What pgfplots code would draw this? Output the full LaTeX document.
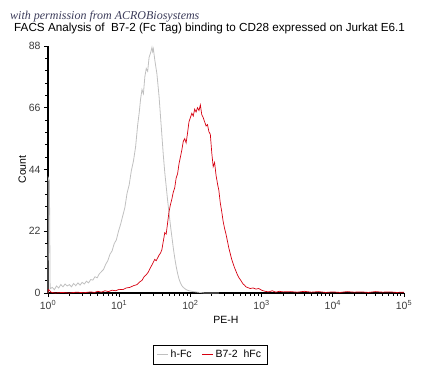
\documentclass[border=0pt]{standalone}
\usepackage{pgfplots}
\pgfplotsset{compat=1.18}
\usepackage{fontspec}
\setmainfont{Liberation Sans}
\newfontfamily\wmfont{Liberation Serif}
\definecolor{grayline}{RGB}{192,192,192}
\definecolor{redline}{RGB}{214,0,16}
\definecolor{ticktext}{RGB}{60,60,60}
\definecolor{wmcol}{RGB}{60,60,90}
\begin{document}
\begin{tikzpicture}
\begin{axis}[
  name=ax,
  width=356pt, height=247pt, scale only axis,
  xmin=0, xmax=5, ymin=0, ymax=88,
  axis x line=bottom, axis y line=left,
  axis line style={line width=1.6pt,-},
  xtick={0,1,2,3,4,5},
  xticklabels={10\textsuperscript{0},10\textsuperscript{1},10\textsuperscript{2},10\textsuperscript{3},10\textsuperscript{4},10\textsuperscript{5}},
  minor xtick={0.301,0.477,0.602,0.699,0.778,0.845,0.903,0.954,
    1.301,1.477,1.602,1.699,1.778,1.845,1.903,1.954,
    2.301,2.477,2.602,2.699,2.778,2.845,2.903,2.954,
    3.301,3.477,3.602,3.699,3.778,3.845,3.903,3.954,
    4.301,4.477,4.602,4.699,4.778,4.845,4.903,4.954},
  ytick={0,22,44,66,88},
  minor y tick num=4,
  tick align=outside,
  major tick length=4pt, minor tick length=2.5pt,
  tick style={black,line width=0.8pt},
  /pgf/number format/assume math mode=true,
  ticklabel style={font=\fontsize{10.5}{12}\selectfont,text=ticktext},
  xlabel={PE-H}, ylabel={Count},
  ylabel shift=-4pt,
  label style={font=\fontsize{10.5}{12}\selectfont},
  legend style={at={(0.455,-0.21)},anchor=north,legend columns=2,
    font=\fontsize{10.5}{12}\selectfont,
    inner xsep=4pt, inner ysep=3pt,
    /tikz/every even column/.append style={column sep=8pt}},
  legend image code/.code={\draw[#1,line width=0.8pt] (0pt,0pt) -- (11pt,0pt);},
  clip=false,
]
\coordinate (O) at (rel axis cs:0,0);
\addplot[grayline,line width=0.8pt] coordinates {
(0.000,0) (0.005,41) (0.020,40) (0.030,1.5) (0.060,2.0) (0.090,1.2) (0.120,2.5) (0.150,1.8)
(0.180,3.0) (0.210,2.2) (0.240,3.2) (0.270,2.5) (0.300,3.0) (0.330,2.2) (0.360,3.4) (0.390,2.6)
(0.420,3.6) (0.450,2.8) (0.480,3.8) (0.510,3.2) (0.540,4.2) (0.570,3.6) (0.600,4.8) (0.630,4.6)
(0.660,5.8) (0.690,5.4) (0.720,6.8) (0.750,7.6) (0.780,8.4) (0.810,10.2) (0.840,11.5) (0.870,13.8)
(0.900,15.0) (0.930,17.6) (0.960,18.9) (0.990,22.0) (1.020,24.5) (1.050,27.5) (1.080,30.5) (1.110,35.5)
(1.140,38.5) (1.170,43.5) (1.200,47.0) (1.230,52.0) (1.260,60.0) (1.280,64.0) (1.300,69.0) (1.320,72.5)
(1.340,71.0) (1.360,77.0) (1.380,80.0) (1.400,79.0) (1.420,84.0) (1.440,85.5) (1.460,87.5) (1.470,86.0)
(1.480,87.0) (1.500,83.0) (1.530,78.0) (1.560,70.0) (1.580,63.0) (1.600,56.0) (1.620,49.0) (1.640,43.0)
(1.660,38.0) (1.680,33.0) (1.700,28.5) (1.720,24.0) (1.740,20.0) (1.760,16.0) (1.780,12.5) (1.800,9.5)
(1.820,7.0) (1.840,5.0) (1.860,3.6) (1.880,2.6) (1.900,2.0) (1.940,1.2) (1.980,0.8) (2.040,0.5)
(2.100,0.3) (2.200,0.0) (2.400,0.0)
};
\addlegendentry{h-Fc}
\addplot[redline,line width=0.7pt] coordinates {
(0.000,0) (0.005,1.2) (0.020,1.0) (0.040,0.3) (0.100,0.0) (0.200,0.2) (0.300,0.0) (0.400,0.3)
(0.500,0.1) (0.600,0.4) (0.650,0.2) (0.700,0.6) (0.750,0.3) (0.800,0.8) (0.850,0.5) (0.900,1.0)
(0.950,0.8) (1.000,1.3) (1.050,1.2) (1.100,1.8) (1.150,2.0) (1.200,2.6) (1.250,3.0) (1.290,4.0)
(1.320,4.5) (1.350,5.8) (1.380,6.5) (1.410,7.5) (1.430,8.6) (1.460,10.0) (1.480,11.0) (1.500,12.0)
(1.520,11.5) (1.540,12.5) (1.560,13.5) (1.580,14.2) (1.600,15.5) (1.620,18.5) (1.640,21.5) (1.660,21.0)
(1.680,25.0) (1.700,29.0) (1.720,31.5) (1.740,33.5) (1.760,36.0) (1.780,37.5) (1.800,41.0) (1.820,42.5)
(1.840,46.0) (1.860,48.5) (1.880,51.0) (1.900,54.0) (1.920,55.0) (1.940,53.5) (1.960,57.0) (1.980,61.0)
(2.000,62.5) (2.020,64.0) (2.040,63.0) (2.060,65.5) (2.080,64.5) (2.100,66.0) (2.120,65.0) (2.140,67.0)
(2.160,63.5) (2.180,62.5) (2.200,61.0) (2.220,59.5) (2.240,60.0) (2.260,57.5) (2.280,56.5) (2.300,50.0)
(2.320,45.0) (2.340,46.5) (2.360,42.0) (2.380,39.0) (2.400,36.5) (2.420,32.0) (2.440,29.0) (2.460,25.5)
(2.480,23.0) (2.500,21.0) (2.520,18.5) (2.540,16.0) (2.560,14.0) (2.580,12.0) (2.600,10.5) (2.620,9.0)
(2.640,7.8) (2.660,6.5) (2.680,5.5) (2.700,4.8) (2.720,4.0) (2.740,3.2) (2.760,2.8) (2.780,2.2)
(2.800,2.0) (2.840,1.6) (2.880,1.8) (2.920,1.4) (2.960,1.6) (3.000,1.0) (3.050,0.6) (3.100,0.4)
(3.150,0.8) (3.200,0.3) (3.250,0.6) (3.300,0.4) (3.400,0.5) (3.500,0.3) (3.600,0.6) (3.700,0.3)
(3.800,0.5) (3.900,0.2) (4.000,0.4) (4.100,0.2) (4.200,0.5) (4.300,0.3) (4.400,0.4) (4.500,0.2)
(4.600,0.5) (4.700,0.3) (4.800,0.4) (4.900,0.2) (5.000,0.3)
};
\addlegendentry{B7-2 \ hFc}
\end{axis}
\node[anchor=west,font=\wmfont\itshape\fontsize{12}{14}\selectfont,text=wmcol,inner sep=0pt] at ([shift={(-38pt,276.5pt)}]O) {with permission from ACROBiosystems};
\node[anchor=west,font=\fontsize{11.7}{14}\selectfont,inner sep=0pt] at ([shift={(-34pt,265pt)}]O) {FACS Analysis of \ B7-2 (Fc Tag) binding to CD28 expressed on Jurkat E6.1};
\pgfresetboundingbox
\path[use as bounding box] ([shift={(-48pt,-93pt)}]O) rectangle ([shift={(383pt,293pt)}]O);
\end{tikzpicture}
\end{document}
